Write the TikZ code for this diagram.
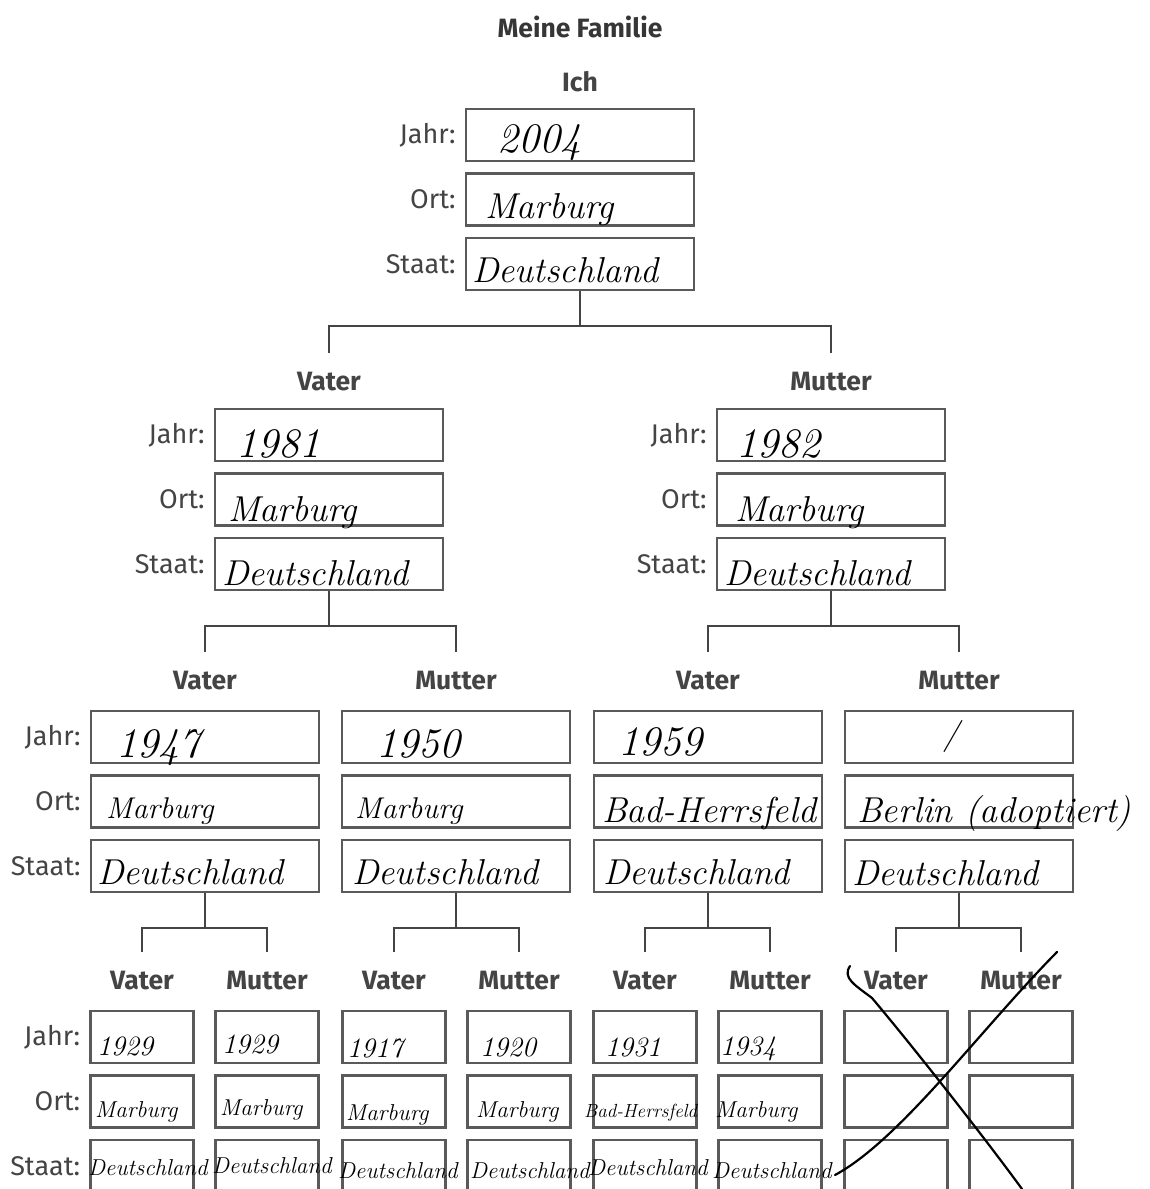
\documentclass[tikz,border=0pt]{standalone}
\usepackage{fontspec}
\usepackage{xcolor}
\usepackage{tikz}
\usetikzlibrary{positioning}
\newfontfamily\formfont{Fira Sans}
\definecolor{FormGrey}{HTML}{444444}
\definecolor{BoxGrey}{HTML}{5A5A5A}

\begin{document}
\begin{tikzpicture}[
    x=1pt, y=-1pt,
    field/.style={draw=BoxGrey, line width=2.4pt, minimum height=52pt, inner sep=0pt, anchor=north},
    who/.style={text=FormGrey, font=\formfont\bfseries\fontsize{26.5}{26.5}\selectfont, inner sep=0pt},
    lbl/.style={text=FormGrey, font=\formfont\fontsize{27}{27}\selectfont, inner sep=0pt},
    conn/.style={draw=FormGrey, line width=2pt},
    hand/.style={anchor=base west, inner sep=0pt, font=\itshape\fontsize{36}{36}\selectfont},
    handmid/.style={hand, font=\itshape\fontsize{30}{30}\selectfont},
    handyear/.style={hand, font=\itshape\fontsize{42}{42}\selectfont},
    handsmall/.style={hand, font=\itshape\fontsize{23}{23}\selectfont},
    handsmallyear/.style={hand, font=\itshape\fontsize{28}{28}\selectfont},
    crossline/.style={draw=black, line width=2.2pt, line cap=round}
]
    \useasboundingbox (0,0) rectangle (1149,1189);
    \clip (0,0) rectangle (1149,1189);
    \fill[white] (0,0) rectangle (1149,1189);

    \node[who, text=FormGrey!80!black] (title) at (580,27) {Meine Familie};

    % one person = name + three fields
    \foreach \id/\cx/\ty/\top/\w/\who in {
        ich/580/82/108/228/Ich,
        v/329/382/408/228/Vater, m/831/382/408/228/Mutter,
        vv/205/681/710/228/Vater, vm/456/681/710/228/Mutter,
        mv/708/681/710/228/Vater, mm/959/681/710/228/Mutter,
        vvv/142/981/1010/103/Vater, vvm/267/981/1010/103/Mutter,
        vmv/394/981/1010/103/Vater, vmm/519/981/1010/103/Mutter,
        mvv/645/981/1010/103/Vater, mvm/770/981/1010/103/Mutter,
        mmv/896/981/1010/103/Vater, mmm/1021/981/1010/103/Mutter} {
        \node[who] (\id-t) at (\cx,\ty) {\who};
        \node[field, minimum width=\w pt] (\id-j) at (\cx,\top) {};
        \node[field, minimum width=\w pt, below=10pt of \id-j] (\id-o) {};
        \node[field, minimum width=\w pt, below=10pt of \id-o] (\id-s) {};
    }

    % row labels
    \foreach \id in {ich, v, m, vv, vvv} {
        \node[lbl, left=9pt of \id-j] (\id-jl) {Jahr:};
        \node[lbl, left=9pt of \id-o] (\id-ol) {Ort:};
        \node[lbl, left=9pt of \id-s] (\id-sl) {Staat:};
    }

    % connectors
    \foreach \p/\a/\b in {ich/v/m, v/vv/vm, m/mv/mm, vv/vvv/vvm, vm/vmv/vmm, mv/mvv/mvm, mm/mmv/mmm} {
        \draw[conn] (\p-s.south) -- ++(0,35) coordinate (f-\p) -| ([yshift=29pt]\a-t.center);
        \draw[conn] (f-\p) -| ([yshift=29pt]\b-t.center);
    }

    % handwriting
    \node[handyear] (ich-jh) at (497,152) {2004};
    \node[hand] (ich-oh) at (485,218) {Marburg};
    \node[hand] (ich-sh) at (472,282) {Deutschland};

    \node[handyear] (v-jh) at (236,457) {1981};
    \node[hand] (v-oh) at (228,521) {Marburg};
    \node[hand] (v-sh) at (222,585) {Deutschland};
    \node[handyear] (m-jh) at (736,457) {1982};
    \node[hand] (m-oh) at (735,521) {Marburg};
    \node[hand] (m-sh) at (724,585) {Deutschland};

    \node[handyear] (vv-jh) at (116,757) {1947};
    \node[handmid] (vv-oh) at (106,818) {Marburg};
    \node[hand] (vv-sh) at (97,884) {Deutschland};
    \node[handyear] (vm-jh) at (376,757) {1950};
    \node[handmid] (vm-oh) at (355,818) {Marburg};
    \node[hand] (vm-sh) at (352,884) {Deutschland};
    \node[handyear] (mv-jh) at (618,755) {1959};
    \node[hand] (mv-oh) at (602,822) {Bad-Herrsfeld};
    \node[hand] (mv-sh) at (603,884) {Deutschland};
    \node[hand, font=\itshape\fontsize{32}{32}\selectfont] (mm-jh) at (943,744) {/};
    \node[hand] (mm-oh) at (857,822) {Berlin (adoptiert)};
    \node[hand] (mm-sh) at (852,885) {Deutschland};

    \node[handsmallyear] (vvv-jh) at (97,1055) {1929};
    \node[handsmall] (vvv-oh) at (95,1117) {Marburg};
    \node[handsmall] (vvv-sh) at (88,1175) {Deutschland};
    \node[handsmallyear] (vvm-jh) at (222,1053) {1929};
    \node[handsmall] (vvm-oh) at (220,1115) {Marburg};
    \node[handsmall] (vvm-sh) at (212,1173) {Deutschland};
    \node[handsmallyear] (vmv-jh) at (347,1057) {1917};
    \node[handsmall] (vmv-oh) at (346,1120) {Marburg};
    \node[handsmall] (vmv-sh) at (338,1178) {Deutschland};
    \node[handsmallyear] (vmm-jh) at (480,1056) {1920};
    \node[handsmall] (vmm-oh) at (476,1117) {Marburg};
    \node[handsmall] (vmm-sh) at (470,1178) {Deutschland};
    \node[handsmallyear] (mvv-jh) at (605,1056) {1931};
    \node[handsmall, font=\itshape\fontsize{19}{19}\selectfont] (mvv-oh) at (584,1117) {Bad-Herrsfeld};
    \node[handsmall] (mvv-sh) at (588,1175) {Deutschland};
    \node[handsmallyear] (mvm-jh) at (720,1055) {1934};
    \node[handsmall] (mvm-oh) at (715,1117) {Marburg};
    \node[handsmall] (mvm-sh) at (712,1178) {Deutschland};

    % struck out
    \draw[crossline] (850,966) .. controls (842,978) and (855,985) .. (872,998)
        .. controls (920,1055) and (990,1145) .. (1022,1189);
    \draw[crossline] (1057,952) .. controls (980,1030) and (900,1140) .. (835,1175);
\end{tikzpicture}
\end{document}
